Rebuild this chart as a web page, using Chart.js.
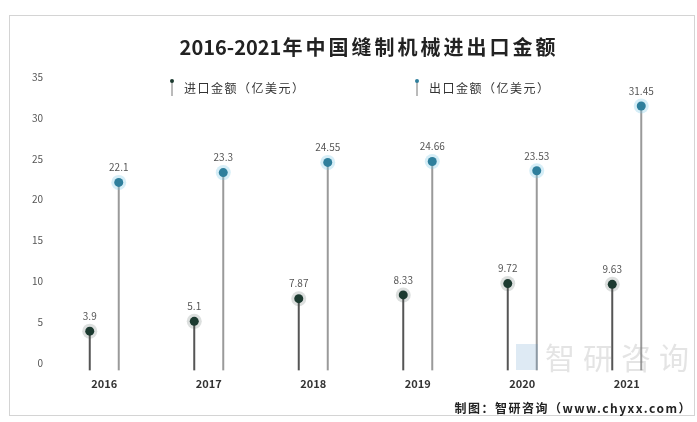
<!DOCTYPE html>
<html><head><meta charset="utf-8">
<script src="https://cdn.jsdelivr.net/npm/chart.js@4/dist/chart.umd.min.js"></script>
<style>
html,body{margin:0;padding:0;background:#fff;}
#wrap{position:relative;width:697px;height:422px;}
#frame{position:absolute;left:9px;top:15px;width:686px;height:401px;border:1px solid #d4d4d4;box-sizing:border-box;}
canvas{position:absolute;left:0;top:0;}
</style></head><body>
<div id="wrap"><div id="frame"></div><canvas id="c" width="697" height="422"></canvas></div>
<script>
const years = ['2016','2017','2018','2019','2020','2021'];
const importValues = [3.9, 5.1, 7.87, 8.33, 9.72, 9.63];
const exportValues = [22.1, 23.3, 24.55, 24.66, 23.53, 31.45];
const importLabels = ['3.9','5.1','7.87','8.33','9.72','9.63'];
const exportLabels = ['22.1','23.3','24.55','24.66','23.53','31.45'];
const seriesNames = ['进口金额（亿美元）','出口金额（亿美元）'];
const yTicks = [0,5,10,15,20,25,30,35];
const titleNum = '2016-2021';
const titleCjk = '年中国缝制机械进出口金额';
const sourceText = '制图：智研咨询（www.chyxx.com）';
const watermark = '智研咨询';

const CJK = '"Noto Sans CJK SC", "Noto Sans", sans-serif';

const lollipop = {
  id: 'lollipop',
  afterDatasetsDraw(chart) {
    const ctx = chart.ctx;
    chart.data.datasets.forEach((ds, i) => {
      const meta = chart.getDatasetMeta(i);
      meta.data.forEach((bar, j) => {
        ctx.save();
        ctx.beginPath();
        ctx.arc(bar.x, bar.y, 7.5, 0, Math.PI * 2);
        ctx.fillStyle = ds.haloColor;
        ctx.fill();
        ctx.beginPath();
        ctx.arc(bar.x, bar.y, 4.5, 0, Math.PI * 2);
        ctx.fillStyle = ds.dotColor;
        ctx.fill();
        ctx.fillStyle = '#555';
        ctx.font = '10px ' + CJK;
        ctx.textAlign = 'center';
        ctx.textBaseline = 'middle';
        ctx.fillText(ds.valueLabels[j], bar.x, bar.y - 15);
        ctx.restore();
      });
    });
  },
  afterDraw(chart) {
    const ctx = chart.ctx;
    ctx.save();
    // title
    ctx.fillStyle = '#222';
    ctx.textBaseline = 'middle';
    ctx.font = 'bold 20px ' + CJK;
    const sp = 3;
    const wNum = ctx.measureText(titleNum).width;
    ctx.letterSpacing = sp + 'px';
    const wCjk = ctx.measureText(titleCjk).width;
    const total = wNum + wCjk - sp;
    let x0 = 367 - total / 2;
    ctx.letterSpacing = '0px';
    ctx.textAlign = 'left';
    ctx.fillText(titleNum, x0, 47);
    ctx.letterSpacing = sp + 'px';
    ctx.fillText(titleCjk, x0 + wNum + 1, 47);
    ctx.letterSpacing = '0px';
    // legend
    const legendX = [172, 417];
    const legendColors = ['#1c3a30', '#2f7f9c'];
    chart.data.datasets.forEach((ds, i) => {
      const lx = legendX[i];
      ctx.strokeStyle = '#777';
      ctx.lineWidth = 1;
      ctx.beginPath();
      ctx.moveTo(lx, 82); ctx.lineTo(lx, 96); ctx.stroke();
      ctx.beginPath();
      ctx.arc(lx, 81, 2, 0, Math.PI * 2);
      ctx.fillStyle = legendColors[i];
      ctx.fill();
      ctx.fillStyle = '#333';
      ctx.font = '12px ' + CJK;
      ctx.textAlign = 'left';
      ctx.letterSpacing = '1.5px';
      ctx.fillText(ds.label, lx + 12, 88);
      ctx.letterSpacing = '0px';
    });
    // watermark
    ctx.fillStyle = 'rgba(130,130,130,0.22)';
    ctx.font = '30px ' + CJK;
    ctx.letterSpacing = '8px';
    ctx.textAlign = 'left';
    ctx.fillText(watermark, 545, 358);
    ctx.letterSpacing = '0px';
    ctx.fillStyle = 'rgba(90,150,200,0.2)';
    ctx.fillRect(516, 344, 22, 26);
    // source
    ctx.fillStyle = '#222';
    ctx.font = 'bold 12px ' + CJK;
    ctx.textAlign = 'right';
    ctx.letterSpacing = '1.5px';
    ctx.fillText(sourceText, 692, 408);
    ctx.restore();
  }
};

new Chart(document.getElementById('c'), {
  type: 'bar',
  data: {
    labels: years,
    datasets: [
      { label: seriesNames[0], data: importValues, valueLabels: importLabels,
        backgroundColor: '#555', dotColor: '#1c3a30', haloColor: 'rgba(60,80,70,0.18)',
        maxBarThickness: 2, base: -0.9, clip: false },
      { label: seriesNames[1], data: exportValues, valueLabels: exportLabels,
        backgroundColor: '#9a9a9a', dotColor: '#2f7f9c', haloColor: 'rgba(120,200,230,0.3)',
        maxBarThickness: 2, base: -0.9, clip: false }
    ]
  },
  options: {
    responsive: false,
    animation: false,
    devicePixelRatio: 1,
    categoryPercentage: 0.555,
    barPercentage: 1,
    layout: { padding: { top: 77, right: 18, left: 0, bottom: 0 } },
    plugins: { legend: { display: false }, title: { display: false }, tooltip: { enabled: false } },
    scales: {
      x: {
        grid: { display: false, drawTicks: false },
        border: { display: false },
        ticks: { color: '#333', font: { size: 11, weight: 'bold', family: CJK }, padding: 14 },
        afterFit(s) { s.height = 59; }
      },
      y: {
        min: 0, max: 35,
        afterBuildTicks(s) { s.ticks = yTicks.map(v => ({ value: v })); },
        grid: { display: false, drawTicks: false },
        border: { display: false },
        ticks: { color: '#555', font: { size: 10, family: CJK }, padding: 9 },
        afterFit(s) { s.width = 52; }
      }
    }
  },
  plugins: [lollipop]
});
</script>
</body></html>
